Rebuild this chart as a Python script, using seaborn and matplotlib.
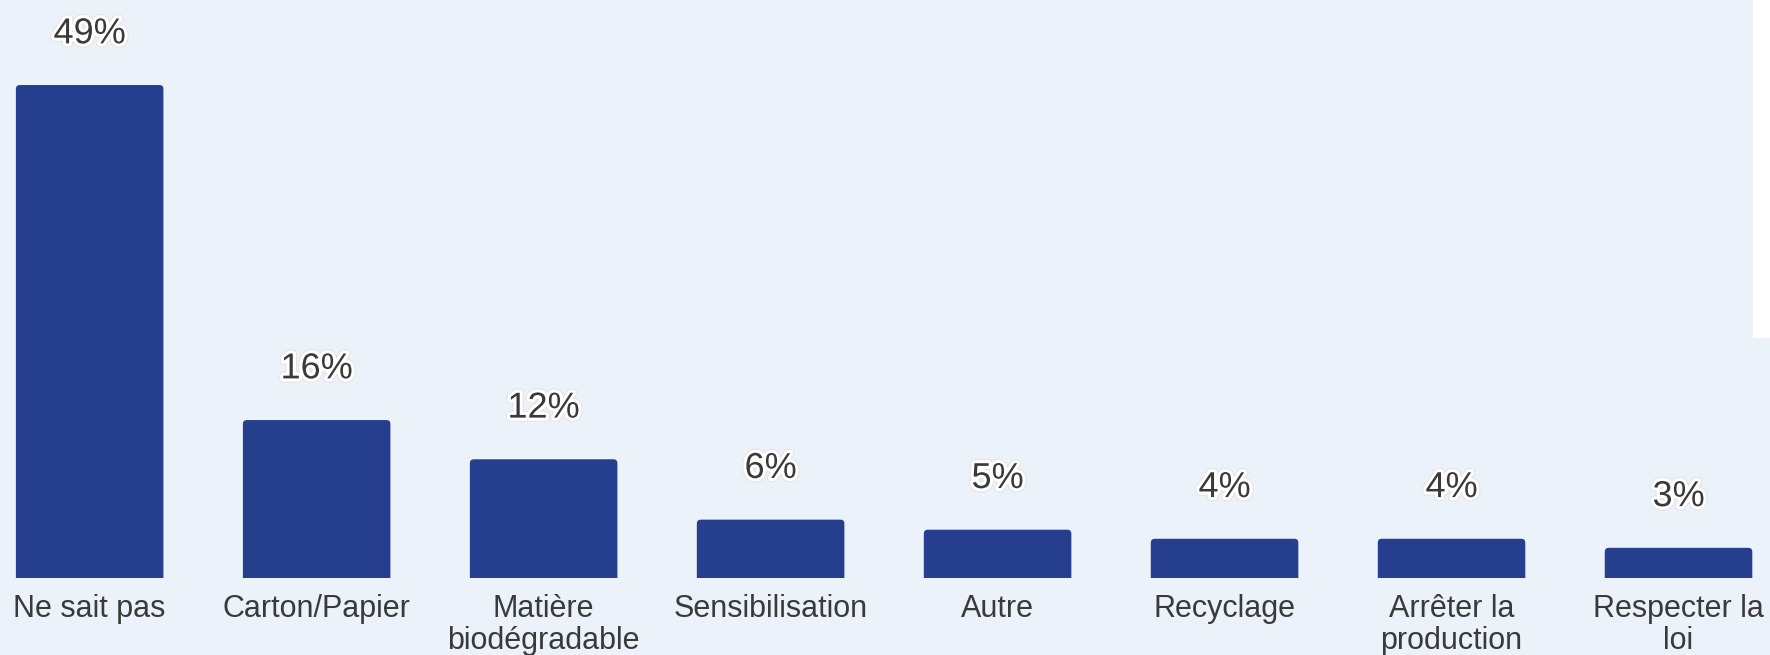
import matplotlib
matplotlib.use("Agg")
import matplotlib.pyplot as plt
import matplotlib.patheffects as pe
from matplotlib.patches import Rectangle, FancyBboxPatch
import seaborn as sns
import pandas as pd

categories = ["Ne sait pas", "Carton/Papier", "Matière\nbiodégradable", "Sensibilisation",
              "Autre", "Recyclage", "Arrêter la\nproduction", "Respecter la\nloi"]
values = [49.0, 15.7, 11.8, 5.8, 4.8, 3.9, 3.9, 3.0]
value_labels = ["49%", "16%", "12%", "6%", "5%", "4%", "4%", "3%"]

df = pd.DataFrame({"cat": categories, "val": values})

sns.set_theme(style="white")
plt.rcParams['font.family'] = ['Liberation Sans', 'DejaVu Sans']

BG = "#EBF2FA"
BAR = "#253F8E"
TXT = "#3a3a3a"

fig = plt.figure(figsize=(17.7, 6.55), dpi=100, facecolor=BG)
ax = fig.add_axes([0, 77 / 655, 1, 578 / 655])
ax.set_facecolor(BG)

sns.barplot(data=df, x="cat", y="val", color=BAR, width=0.65, ax=ax,
            saturation=1, edgecolor="none")

ax.set_xlim(-0.395, 7.403)
ax.set_ylim(0, 57.45)

# round the top corners of the bars (geometry taken from seaborn's patches)
x_px = 1770 / (7.403 + 0.395)
y_px = 578 / 57.45
for p in list(ax.patches):
    x0, w, h = p.get_x(), p.get_width(), p.get_height()
    fb = FancyBboxPatch((x0, -1.0), w, h + 1.0,
                        boxstyle="round,pad=0,rounding_size=%f" % (4 / x_px),
                        mutation_aspect=x_px / y_px,
                        facecolor=BAR, edgecolor="none", zorder=p.get_zorder())
    p.set_visible(False)
    ax.add_patch(fb)

for i, (v, lab) in enumerate(zip(values, value_labels)):
    ax.annotate(lab, xy=(i, v), xytext=(0, 30), textcoords="offset points",
                ha="center", va="baseline", fontsize=26, color=TXT,
                path_effects=[pe.withStroke(linewidth=6, foreground="#e4e4e4"),
                              pe.withStroke(linewidth=4.5, foreground="white")])

ax.set_xlabel("")
ax.set_ylabel("")
ax.set_yticks([])
ax.tick_params(axis="x", length=0, pad=11.5, labelsize=22, labelcolor=TXT)
for t in ax.get_xticklabels():
    t.set_linespacing(1.1)
for s in ax.spines.values():
    s.set_visible(False)

fig.patches.append(Rectangle((1753 / 1770, 1 - 338 / 655), 17 / 1770, 338 / 655,
                             transform=fig.transFigure, facecolor="white",
                             edgecolor="none", zorder=5))

fig.savefig("out.png", dpi=100, facecolor=BG)
